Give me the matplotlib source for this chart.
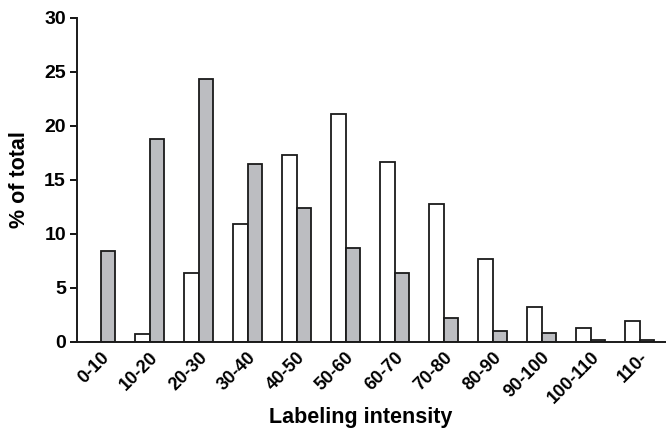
import numpy as np
import matplotlib.pyplot as plt

plt.rcParams['font.family'] = ['Liberation Sans', 'DejaVu Sans']
plt.rcParams['font.weight'] = 'bold'

categories = ['0-10', '10-20', '20-30', '30-40', '40-50', '50-60', '60-70',
              '70-80', '80-90', '90-100', '100-110', '110-']
white_vals = [0, 0.7, 6.4, 10.9, 17.3, 21.1, 16.6, 12.8, 7.7, 3.2, 1.3, 1.9]
gray_vals = [8.4, 18.8, 24.3, 16.5, 12.4, 8.7, 6.4, 2.2, 1.0, 0.8, 0.2, 0.15]

fig = plt.figure(figsize=(6.66, 4.29), dpi=100)
ax = fig.add_axes([77/666, 87/429, 589/666, 324.5/429])

x = np.arange(len(categories))
w = 0.3
ax.bar(x - w/2, white_vals, w, color='white', edgecolor='#1a1a1a', linewidth=1.3)
ax.bar(x + w/2, gray_vals, w, color='#bcbdc1', edgecolor='#1a1a1a', linewidth=1.3)

ax.set_ylim(0, 30)
ax.set_xlim(-0.48, 11.54)
ax.set_yticks([0, 5, 10, 15, 20, 25, 30])
ax.set_xticks(x)
ax.set_xticklabels(categories, rotation=45, ha='right', rotation_mode='anchor')
ax.tick_params(axis='x', length=0, pad=5, labelsize=13)
ax.tick_params(axis='y', length=5, width=1.3, labelsize=14, direction='out', pad=3)
for s in ['top', 'right']:
    ax.spines[s].set_visible(False)
for s in ['left', 'bottom']:
    ax.spines[s].set_linewidth(1.4)
    ax.spines[s].set_color('#1a1a1a')

ax.set_ylabel('% of total', fontsize=15.5, fontweight='bold')
ax.set_xlabel('Labeling intensity', fontsize=15.5, fontweight='bold')
ax.yaxis.set_label_coords(-0.08, 0.5)
ax.xaxis.set_label_coords(0.482, -0.2)

fig.savefig('out.png', dpi=100)
